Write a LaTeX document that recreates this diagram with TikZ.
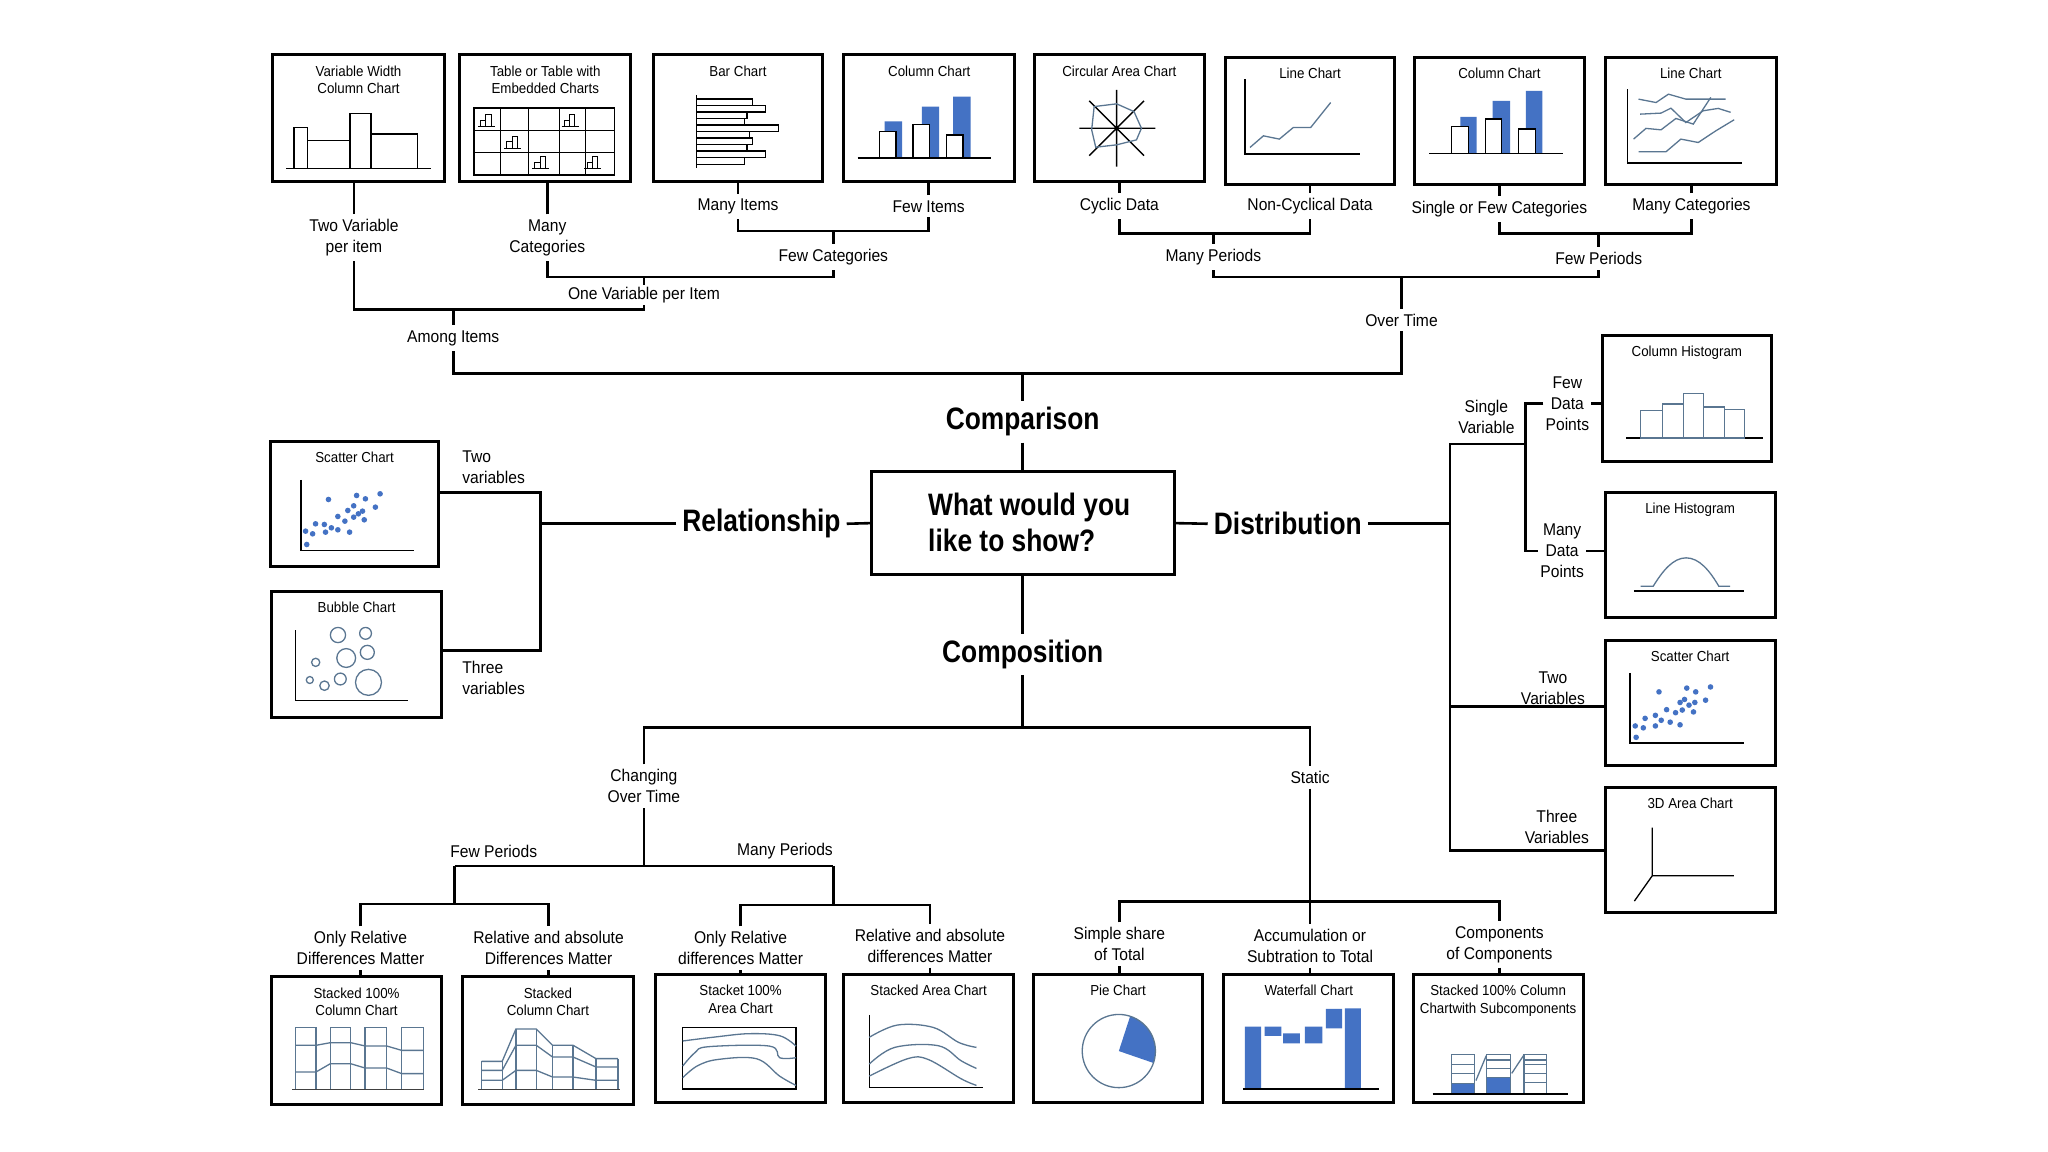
\documentclass[tikz,border=0pt]{standalone}
\usepackage{fontspec}
\setmainfont{Liberation Sans}[FakeStretch=0.92]
\newfontfamily\boldcond{Liberation Sans}[FakeStretch=0.85]
\usetikzlibrary{calc,fit}
\definecolor{cblue}{RGB}{68,114,196}
\definecolor{slate}{RGB}{90,118,145}
\newcommand\lblfont{\fontsize{17}{21}\selectfont}
\newcommand\ttlfont{\fontsize{14.5}{17.5}\selectfont}
\newcommand\bigfont{\boldcond\bfseries\fontsize{31}{36}\selectfont}
\tikzset{
 cbox/.style={draw, line width=3pt, inner sep=0pt, outer sep=0pt},
 conn/.style={line width=2.6pt},
 lbl/.style={font=\lblfont, align=center, inner sep=5pt},
 ttl/.style={font=\ttlfont, align=center, inner sep=0pt, anchor=north},
 big/.style={font=\bigfont, inner sep=6pt},
 pline/.style={draw=black, line width=1.3pt},
 sline/.style={draw=slate, line width=1.3pt},
}
\newcommand\chartbox[6]{%
 \node[cbox, fit={(#2,#3) (#4,#5)}] (#1) {};
 \node[ttl] (#1t) at ($(#1.north)+(0,8)$) {#6};
}
\newcommand\miniicon[2]{%
 \draw[line width=0.9pt] (#1,#2) -- ++(13,0) (#1+2,#2) rectangle ++(4,-5) (#1+6,#2) rectangle ++(4,-9);
}
\begin{document}
\begin{tikzpicture}[x=1.3061pt,y=-1.3061pt]
\fill[white] (0,0) rectangle (1568,882);
\useasboundingbox (0,0) rectangle (1568,882);

% ---------- boxes ----------
\chartbox{b1}{209}{42}{340}{139}{Variable Width\\Column Chart}
\chartbox{b2}{352}{42}{483}{139}{Table or Table with\\Embedded Charts}
\chartbox{b3}{500}{42}{630}{139}{Bar Chart}
\chartbox{b4}{646}{42}{777}{139}{Column Chart}
\chartbox{b5}{792}{42}{922}{139}{Circular Area Chart}
\chartbox{b6}{938}{44}{1068}{141}{Line Chart}
\chartbox{b7}{1083}{44}{1213}{141}{Column Chart}
\chartbox{b8}{1229}{44}{1360}{141}{Line Chart}
\chartbox{sc}{207}{338}{336}{434}{Scatter Chart}
\chartbox{bb}{208}{453}{338}{549}{Bubble Chart}
\chartbox{ch}{1227}{257}{1356}{353}{Column Histogram}
\chartbox{lh}{1229}{377}{1359}{473}{Line Histogram}
\chartbox{sd}{1229}{490}{1359}{586}{Scatter Chart}
\chartbox{ad}{1229}{603}{1359}{699}{3D Area Chart}
\chartbox{c1}{208}{748}{338}{846}{Stacked 100\%\\Column Chart}
\chartbox{c2}{354}{748}{485}{846}{Stacked\\Column Chart}
\chartbox{c3}{502}{746}{632}{844}{Stacket 100\%\\Area Chart}
\chartbox{c4}{646}{746}{776}{844}{Stacked Area Chart}
\chartbox{c5}{791}{746}{921}{844}{Pie Chart}
\chartbox{c6}{937}{746}{1067}{844}{Waterfall Chart}
\chartbox{c7}{1082}{746}{1212}{844}{Stacked 100\% Column\\Chartwith Subcomponents}

% ---------- pictograms ----------
\begin{scope}[shift={(b1.north west)}]
\draw[pline] (10.3,86.8) -- (120.8,86.8);
\draw[pline] (16,86.8) rectangle (26.3,55.6) (26.3,86.8) rectangle (59,65.6) (59,86.8) rectangle (75,44.7) (75,86.8) rectangle (110.5,60.7);
\end{scope}
\begin{scope}[shift={(b2.north west)}]
\draw[line width=1.5pt] (11,40.8) rectangle (118.5,91.9);
\foreach \u in {31.2,52.6,76.2,96.4} \draw[line width=1.3pt] (\u,40.8) -- (\u,91.9);
\foreach \v in {57.9,74.8} \draw[line width=1.3pt] (11,\v) -- (118.5,\v);
\miniicon{14}{55}\miniicon{78}{55}\miniicon{34}{71.5}\miniicon{55.5}{87}\miniicon{95.5}{87}
\end{scope}
\begin{scope}[shift={(b3.north west)}]
\draw[pline] (33.5,30.6) -- (33.5,86.3);
\foreach \i/\l in {0/76,1/86,2/72,3/70,4/96,5/74,6/76,7/72,8/86,9/70} \draw[pline] (33.5,33.7+5*\i) rectangle (\l,38.7+5*\i);
\end{scope}
\begin{scope}[shift={(b4.north west)}]
\fill[cblue] (31.2,79) rectangle (44.6,51) (59.8,79) rectangle (73.1,39.6) (83.8,79) rectangle (97.1,31.9);
\draw[pline, fill=white] (27.4,79) rectangle (40,58.7) (53,79) rectangle (65.9,53.1) (78.5,79) rectangle (91.4,61.3);
\draw[line width=1.5pt] (10.7,79) -- (112.4,79);
\end{scope}
\begin{scope}[shift={(b5.north west)}]
\draw[pline] (62.9,26.8)--(62.9,85.5) (34.3,56.2)--(92.6,56.2) (41.9,35.2)--(83.9,77.2) (83.9,35.2)--(41.9,77.2);
\draw[sline] (62.9,37.5)--(76.2,43.4)--(81.9,56.2)--(78.1,65.1)--(62.9,68.9)--(46.9,70.7)--(43.8,57.4)--(45.7,39.6)--cycle;
\end{scope}
\begin{scope}[shift={(b6.north west)}]
\draw[pline] (15.2,16.6)--(15.2,74)--(102.9,74);
\draw[sline] (19,68.9)--(29.3,60)--(41.5,62.5)--(52.2,53.6)--(65.5,53.6)--(80.8,34.5);
\end{scope}
\begin{scope}[shift={(b7.north west)}]
\fill[cblue] (35,73.5) rectangle (47.6,45.4) (59.8,73.5) rectangle (73.1,33.2) (85.3,73.5) rectangle (97.9,25.5);
\draw[pline, fill=white] (28.2,73.5) rectangle (41.1,52.8) (54.1,73.5) rectangle (66.7,47.2) (79.6,73.5) rectangle (92.6,54.8);
\draw[line width=1.5pt] (11.4,73.5) -- (113.9,73.5);
\end{scope}
\begin{scope}[shift={(b8.north west)}]
\draw[pline] (17.1,24.2)--(17.1,80.9)--(104.8,80.9);
\draw[sline] (25.5,31.9)--(38.9,34.5)--(48.4,28.1)--(61.7,31.9)--(92.2,31.9);
\draw[sline] (26.7,43.4)--(42.7,42.6)--(50.3,38.8)--(61.7,49.8)--(75,40.8)--(86.5,39)--(96,42);
\draw[sline] (21.7,62.5)--(31.2,54.3)--(42.7,55.4)--(54.1,46.7)--(67.4,51)--(80.8,30.6);
\draw[sline] (25.5,72.2)--(46.5,72.2)--(57.9,62.5)--(71.2,65.1)--(84.6,56.2)--(98.7,47.7);
\end{scope}
\begin{scope}[shift={(sc.north west)}]
\draw[pline] (23.4,29.4)--(23.4,83.5)--(109.6,83.5);
\foreach \a/\b in {80/672,90/640,78/632,95/610,112/635,110/612,122/622,133/628,133/588,145/602,153/635,150/570,160/590,165/525,168/580,175/572,178/598,180/535,197/560,205/520,117/537,160/556}
 \fill[cblue] ({(\a-18)/2.226},{(\b-363)/3.918}) circle[radius=2.8pt];
\end{scope}
\begin{scope}[shift={(bb.north west)}]
\draw[pline] (18,29.4)--(18,83.5)--(104.7,83.5);
\foreach \a/\b/\r in {135/943/7.6,182/938/5.9,149/1012/9.4,185/995/7,97/1025/4.1,139/1075/5.9,112/1095/4.7,87/1078/3.5,187/1085/13}
 \draw[sline] ({(\a-22)/2.226},{(\b-813)/3.918}) circle[radius=\r pt];
\end{scope}
\begin{scope}[shift={(ch.north west)}]
\draw[pline] (18.2,78.3)--(122.8,78.3);
\draw[sline] (29.2,78.3) rectangle (45.6,57.4) (45.6,78.3) rectangle (61.7,52.2) (61.7,78.3) rectangle (77.2,44.3) (77.2,78.3) rectangle (93.3,54.5) (93.3,78.3) rectangle (108.7,56.5);
\end{scope}
\begin{scope}[shift={(lh.north west)}]
\draw[pline] (21.9,75.4)--(106,75.4);
\draw[sline] (27,71.9) -- (36.7,71.9) .. controls (44,60) and (52,50.1) .. (61.9,50.1) .. controls (72,50.1) and (80,60) .. (87,71.9) -- (95.7,71.9);
\end{scope}
\begin{scope}[shift={(sd.north west)}]
\draw[pline] (18.9,25.2)--(18.9,78.8)--(106,78.8);
\foreach \a/\b in {1253/975,1315/965,1335/975,1368/962,1357/997,1300/1003,1310/995,1320/1010,1333/1003,1305/1023,1290/1030,1270/1022,1245/1037,1258/1050,1278/1055,1300/1062,1222/1045,1245/1065,1200/1065,1218/1070,1202/1095,1330/1028}
 \fill[cblue] ({(\a-1133)/2.916},{(\b-838)/3.45}) circle[radius=2.8pt];
\end{scope}
\begin{scope}[shift={(ad.north west)}]
\draw[pline] (36,30.7)--(36,67.5)--(98.4,67.5) (36,67.5)--(22.3,86.9);
\end{scope}
\begin{scope}[shift={(c1.north west)}]
\foreach \p/\q in {18.4/34,44.9/60.5,71.5/88,99.6/116.4} \draw[sline] (\p,38.8) rectangle (\q,86);
\draw[sline] (18.4,52.3)--(34,52.3)--(44.9,50.3)--(60.5,50.3)--(71.5,52.8)--(88,52.8)--(99.6,56.2)--(116.4,56.2);
\draw[sline] (18.4,72.7)--(34,72.7)--(44.9,66.4)--(60.5,66.4)--(71.5,69.7)--(88,69.7)--(99.6,74)--(116.4,74);
\draw[line width=1.6pt, black!75] (15.6,86)--(117,86);
\end{scope}
\begin{scope}[shift={(c2.north west)}]
\draw[sline] (14.8,64.6)--(30.5,64.6)--(41,39.8)--(56.6,39.8)--(69.1,52.3)--(84.8,52.3)--(102.3,62.5)--(119.1,62.5);
\draw[sline] (14.8,71.5)--(30.5,71.5)--(41,52.3)--(56.6,52.3)--(69.1,61.3)--(84.8,61.3)--(102.3,68.9)--(119.1,68.9);
\draw[sline] (14.8,79.1)--(30.5,79.1)--(41,71.5)--(56.6,71.5)--(69.1,76.6)--(84.8,76.6)--(102.3,79.1)--(119.1,79.1);
\foreach \p/\t in {14.8/64.6,30.5/64.6,41/39.8,56.6/39.8,69.1/52.3,84.8/52.3,102.3/62.5,119.1/62.5} \draw[sline] (\p,\t)--(\p,86);
\draw[line width=1.6pt, black!75] (12,86)--(121,86);
\end{scope}
\begin{scope}[shift={(c3.north west)}]
\draw[pline] (20.7,40.8) rectangle (107.4,87.8);
\draw[sline] plot[smooth, tension=0.6] coordinates {(20.7,51) (45,48) (71.5,45.4) (95,47) (107.4,54.9)};
\draw[sline] plot[smooth, tension=0.6] coordinates {(20.7,70.2) (30,60) (40.2,55.4) (87.1,54.9) (94.9,63.8) (107.4,63.8)};
\draw[sline] plot[smooth, tension=0.6] coordinates {(20.7,79.1) (32,70) (48,65.1) (77.3,64.6) (94.9,77.9) (107.4,85)};
\end{scope}
\begin{scope}[shift={(c4.north west)}]
\draw[pline] (19.5,31)--(19.5,86.7)--(106.6,86.7);
\draw[sline] plot[smooth, tension=0.6] coordinates {(19.5,48.2) (41,38.8) (68.4,40.6) (88,52.1) (101.6,55.9)};
\draw[sline] plot[smooth, tension=0.6] coordinates {(19.5,68.7) (39,55.9) (72.3,54.6) (89.8,66.1) (101.6,72)};
\draw[sline] plot[smooth, tension=0.6] coordinates {(19.5,77.9) (48.8,64.6) (64.5,65.1) (89.8,79.9) (101.6,85)};
\end{scope}
\begin{scope}[shift={(c5.north west)}]
\coordinate (pc) at (65.6,58.7);
\fill[cblue] (pc) -- ++(72:36.6pt) arc[start angle=72, end angle=-19, radius=36.6pt] -- cycle;
\draw[sline] (pc) circle[radius=36.6pt];
\end{scope}
\begin{scope}[shift={(c6.north west)}]
\fill[cblue] (16,87.8) rectangle (28.5,40) (31.3,47) rectangle (44.1,40) (45.3,52.8) rectangle (58.2,45.2) (62.1,52.8) rectangle (75.4,40) (78.1,41.3) rectangle (90.6,26.5) (92.6,87.8) rectangle (105,26);
\draw[pline] (14.5,87.8)--(118.4,87.8);
\end{scope}
\begin{scope}[shift={(c7.north west)}]
\fill[cblue] (29.3,83.4) rectangle (46.9,91.6) (55.9,79.1) rectangle (74.2,91.6);
\draw[sline] (29.3,61.3) rectangle (46.9,91.6) (55.9,61.3) rectangle (74.2,91.6) (84.8,61.3) rectangle (102,91.6);
\foreach \v in {68.9,75.8,83.4} \draw[sline] (29.3,\v)--(46.9,\v);
\foreach \v in {65.6,72,79.1} \draw[sline] (55.9,\v)--(74.2,\v);
\foreach \v in {65.6,68.9,75.8,82.7} \draw[sline] (84.8,\v)--(102,\v);
\draw[sline] (48,81.3)--(55.9,62.2) (75.4,75.8)--(84.4,62.2);
\draw[pline] (14.8,91.6)--(118.4,91.6);
\end{scope}

% ---------- central nodes ----------
\node[cbox, fit={(667,361) (899,440)}] (q) {};
\node[font=\bigfont, align=left, inner sep=0pt] (qt) at (788,400) {What would you\\like to show?};
\node[big] (cmp) at (783,323) {Comparison};
\node[big] (rel) at (583,401) {Relationship};
\node[big] (dist) at (986,401) {Distribution};
\node[big] (comp) at (783,501) {Composition};

% ---------- labels ----------
\node[lbl] (tv) at (271,182) {Two Variable\\per item};
\node[lbl] (mc) at (419,182) {Many\\Categories};
\node[lbl] (mi) at (565,158) {Many Items};
\node[lbl] (fi) at (711,158) {Few Items};
\node[lbl] (fc) at (638,197) {Few Categories};
\node[lbl, inner sep=2pt] (ov) at (493,226) {One Variable per Item};
\node[lbl] (ai) at (347,259) {Among Items};
\node[lbl] (cy) at (857,158) {Cyclic Data};
\node[lbl] (nc) at (1003,158) {Non-Cyclical Data};
\node[lbl] (sf) at (1148,160) {Single or Few Categories};
\node[lbl] (mc2) at (1295,158) {Many Categories};
\node[lbl] (mp) at (929,197) {Many Periods};
\node[lbl] (fp) at (1224,198) {Few Periods};
\node[lbl] (ot) at (1073,245) {Over Time};
\node[lbl, anchor=west, align=left] (tw) at (350,358) {Two\\variables};
\node[lbl, anchor=west, align=left] (th) at (350,519) {Three\\variables};
\node[lbl] (sv) at (1138,319) {Single\\Variable};
\node[lbl, inner sep=2pt] (fdp) at (1200,309) {Few\\Data\\Points};
\node[lbl, inner sep=2pt] (mdp) at (1196,422) {Many\\Data\\Points};
\node[lbl] (tv2) at (1189,527) {Two\\Variables};
\node[lbl] (tv3) at (1192,633) {Three\\Variables};
\node[lbl] (cot) at (493,602) {Changing\\Over Time};
\node[lbl] (st) at (1003,595) {Static};
\node[lbl] (fpr) at (378,652) {Few Periods};
\node[lbl] (mpr) at (601,652) {Many Periods};
\node[lbl] (o1) at (276,726) {Only Relative\\Differences Matter};
\node[lbl] (r1) at (420,726) {Relative and absolute\\Differences Matter};
\node[lbl] (o2) at (567,726) {Only Relative\\differences Matter};
\node[lbl] (r2) at (712,724) {Relative and absolute\\differences Matter};
\node[lbl] (ss) at (857,723) {Simple share\\of Total};
\node[lbl] (acc) at (1003,724) {Accumulation or\\Subtration to Total};
\node[lbl] (coc) at (1148,723) {Components\\of Components};

% ---------- junction coordinates ----------
\coordinate (jA) at (638,177);
\coordinate (jB) at (493,212);
\coordinate (jC) at (347,237);
\coordinate (jC2) at (493,237);
\coordinate (jD) at (929,179);
\coordinate (jE) at (1224,179);
\coordinate (jF) at (1073,212);
\coordinate (jG) at (783,286);
\coordinate (jH) at (414,401);
\coordinate (jH1) at (414,377);
\coordinate (jH2) at (414,498);
\coordinate (jI) at (1110,401);
\coordinate (jI1) at (1110,340);
\coordinate (jI2) at (1110,651);
\coordinate (jK) at (1110,541);
\coordinate (jJ) at (1168,340);
\coordinate (jJ1) at (1168,309);
\coordinate (jJ2) at (1168,422);
\coordinate (jL) at (783,557);
\coordinate (jM) at (493,663);
\coordinate (jM1) at (348,663);
\coordinate (jM2) at (638,663);
\coordinate (jN) at (348,692);
\coordinate (jO) at (638,693);
\coordinate (jP) at (1003,690);

% ---------- connectors ----------
\begin{scope}[conn]
\draw (tv.north) -- (tv.north |- b1.south);
\draw (mc.north) -- (mc.north |- b2.south);
\draw (mi.north) -- (mi.north |- b3.south);
\draw (fi.north) -- (fi.north |- b4.south);
\draw (mi.south) |- (jA) -| (fi.south);
\draw (jA) -- (fc.north);
\draw (mc.south) |- (jB) -| (fc.south);
\draw (jB) -- (ov.north);
\draw (tv.south) |- (jC) -- (jC2) -- (ov.south);
\draw (jC) -- (ai.north);
\draw (cy.north) -- (cy.north |- b5.south);
\draw (nc.north) -- (nc.north |- b6.south);
\draw (sf.north) -- (sf.north |- b7.south);
\draw (mc2.north) -- (mc2.north |- b8.south);
\draw (cy.south) |- (jD) -| (nc.south);
\draw (jD) -- (mp.north);
\draw (sf.south) |- (jE) -| (mc2.south);
\draw (jE) -- (fp.north);
\draw (mp.south) |- (jF) -| (fp.south);
\draw (jF) -- (ot.north);
\draw (ai.south) |- (jG) -| (ot.south);
\draw (jG) -- (cmp.north);
\draw (cmp.south) -- (q.north);
\draw (q.west) -- (rel.east);
\draw (rel.west) -- (jH);
\draw (sc.east |- jH1) -- (jH1) -- (jH2) -- (bb.east |- jH2);
\draw (q.east) -- (dist.west);
\draw (dist.east) -- (jI);
\draw (jJ) -- (jI1) -- (jI2) -- (ad.west |- jI2);
\draw (jK) -- (sd.west |- jK);
\draw (fdp.west) -- (jJ1) -- (jJ2) -- (mdp.west);
\draw (fdp.east) -- (ch.west |- fdp.east);
\draw (mdp.east) -- (lh.west |- mdp.east);
\draw (q.south) -- (comp.north);
\draw (comp.south) -- (jL);
\draw (cot.north) |- (jL) -| (st.north);
\draw (cot.south) -- (jM);
\draw (jM1) -- (jM2);
\draw (jM1) -- (jN);
\draw (jM2) -- (jO);
\draw (o1.north) |- (jN) -| (r1.north);
\draw (o2.north) |- (jO) -| (r2.north);
\draw (o1.south) -- (o1.south |- c1.north);
\draw (r1.south) -- (r1.south |- c2.north);
\draw (o2.south) -- (o2.south |- c3.north);
\draw (r2.south) -- (r2.south |- c4.north);
\draw (st.south) -- (acc.north);
\draw (ss.north) |- (jP) -| (coc.north);
\draw (ss.south) -- (ss.south |- c5.north);
\draw (acc.south) -- (acc.south |- c6.north);
\draw (coc.south) -- (coc.south |- c7.north);
\end{scope}
\end{tikzpicture}
\end{document}
